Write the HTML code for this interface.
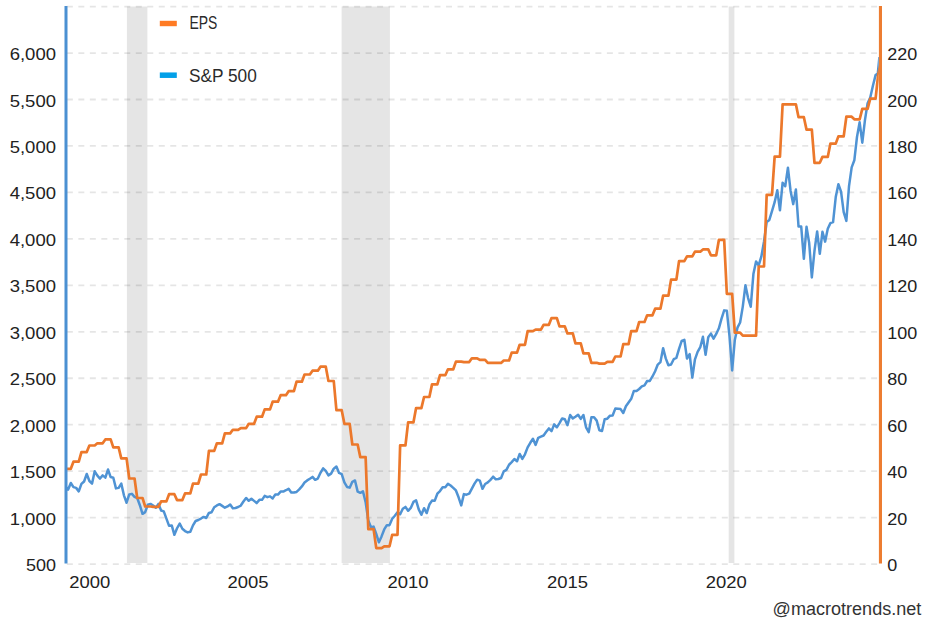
<!DOCTYPE html>
<html><head><meta charset="utf-8"><title>S&amp;P 500 EPS</title>
<style>html,body{margin:0;padding:0;background:#fff;width:927px;height:631px;overflow:hidden;font-family:"Liberation Sans",sans-serif;}svg{display:block;}</style>
</head><body>
<svg width="927" height="631" viewBox="0 0 927 631">
<rect x="0" y="0" width="927" height="631" fill="#ffffff"/>
<rect x="126.90" y="6.50" width="20.50" height="556.50" fill="#e5e5e5"/>
<rect x="341.60" y="6.50" width="48.30" height="556.50" fill="#e5e5e5"/>
<rect x="728.70" y="6.50" width="5.70" height="556.50" fill="#e5e5e5"/>
<line x1="66.85" y1="564.10" x2="878.0" y2="564.10" stroke="#000" stroke-opacity="0.1" stroke-width="1.8" stroke-dasharray="6.0,5.49"/>
<line x1="66.85" y1="517.64" x2="878.0" y2="517.64" stroke="#000" stroke-opacity="0.1" stroke-width="1.8" stroke-dasharray="6.0,5.49"/>
<line x1="66.85" y1="471.18" x2="878.0" y2="471.18" stroke="#000" stroke-opacity="0.1" stroke-width="1.8" stroke-dasharray="6.0,5.49"/>
<line x1="66.85" y1="424.72" x2="878.0" y2="424.72" stroke="#000" stroke-opacity="0.1" stroke-width="1.8" stroke-dasharray="6.0,5.49"/>
<line x1="66.85" y1="378.26" x2="878.0" y2="378.26" stroke="#000" stroke-opacity="0.1" stroke-width="1.8" stroke-dasharray="6.0,5.49"/>
<line x1="66.85" y1="331.80" x2="878.0" y2="331.80" stroke="#000" stroke-opacity="0.1" stroke-width="1.8" stroke-dasharray="6.0,5.49"/>
<line x1="66.85" y1="285.34" x2="878.0" y2="285.34" stroke="#000" stroke-opacity="0.1" stroke-width="1.8" stroke-dasharray="6.0,5.49"/>
<line x1="66.85" y1="238.88" x2="878.0" y2="238.88" stroke="#000" stroke-opacity="0.1" stroke-width="1.8" stroke-dasharray="6.0,5.49"/>
<line x1="66.85" y1="192.42" x2="878.0" y2="192.42" stroke="#000" stroke-opacity="0.1" stroke-width="1.8" stroke-dasharray="6.0,5.49"/>
<line x1="66.85" y1="145.96" x2="878.0" y2="145.96" stroke="#000" stroke-opacity="0.1" stroke-width="1.8" stroke-dasharray="6.0,5.49"/>
<line x1="66.85" y1="99.50" x2="878.0" y2="99.50" stroke="#000" stroke-opacity="0.1" stroke-width="1.8" stroke-dasharray="6.0,5.49"/>
<line x1="66.85" y1="53.04" x2="878.0" y2="53.04" stroke="#000" stroke-opacity="0.1" stroke-width="1.8" stroke-dasharray="6.0,5.49"/>
<line x1="66.85" y1="6.58" x2="878.0" y2="6.58" stroke="#000" stroke-opacity="0.1" stroke-width="1.8" stroke-dasharray="6.0,5.49"/>
<defs><clipPath id="pc"><rect x="66.0" y="6" width="812.8" height="560"/></clipPath></defs>
<g clip-path="url(#pc)" fill="none" stroke-linejoin="round" stroke-linecap="butt">
<path d="M65.50,486.50 L68.15,489.59 L70.81,483.01 L73.46,487.10 L76.12,487.87 L78.78,491.37 L81.43,483.92 L84.09,481.50 L86.74,474.04 L89.40,480.99 L92.06,483.59 L94.71,471.31 L97.37,475.60 L100.02,478.56 L102.68,475.40 L105.34,477.61 L107.99,469.54 L110.65,477.08 L113.30,477.74 L115.96,488.37 L118.62,487.88 L121.27,483.63 L123.93,495.34 L126.58,502.74 L129.24,494.46 L131.90,493.87 L134.55,496.79 L137.21,498.01 L139.86,505.23 L142.52,513.84 L145.18,512.09 L147.83,504.68 L150.49,503.88 L153.14,505.54 L155.80,507.72 L158.46,503.94 L161.11,510.49 L163.77,511.40 L166.42,518.59 L169.08,525.85 L171.74,525.44 L174.39,534.80 L177.05,528.26 L179.70,523.56 L182.36,528.81 L185.02,531.05 L187.67,532.40 L190.33,531.75 L192.98,525.36 L195.64,521.02 L198.30,520.01 L200.95,518.54 L203.61,516.90 L206.26,518.01 L208.92,512.93 L211.58,512.23 L214.23,507.24 L216.89,505.46 L219.54,504.17 L222.20,505.91 L224.86,507.67 L227.51,506.43 L230.17,504.55 L232.82,508.19 L235.48,507.95 L238.14,506.99 L240.79,505.54 L243.45,501.49 L246.10,497.95 L248.76,500.80 L251.42,498.72 L254.07,500.86 L256.73,503.07 L259.38,499.85 L262.04,499.86 L264.70,495.88 L267.35,497.17 L270.01,496.38 L272.66,498.40 L275.32,494.46 L277.98,494.57 L280.63,491.61 L283.29,491.56 L285.94,490.24 L288.60,488.78 L291.26,492.54 L293.91,492.53 L296.57,491.93 L299.22,489.41 L301.88,486.43 L304.54,482.52 L307.19,480.41 L309.85,478.77 L312.50,476.92 L315.16,479.84 L317.82,478.53 L320.47,472.82 L323.13,468.33 L325.78,470.87 L328.44,475.34 L331.10,473.60 L333.75,468.69 L336.41,466.59 L339.06,472.93 L341.72,474.12 L344.38,482.47 L347.03,486.92 L349.69,487.65 L352.34,481.81 L355.00,480.44 L357.66,491.62 L360.31,492.80 L362.97,491.36 L365.62,502.18 L368.28,520.54 L370.94,527.28 L373.59,526.63 L376.25,533.82 L378.90,542.26 L381.56,536.42 L384.22,529.46 L386.87,525.15 L389.53,525.14 L392.18,518.80 L394.84,515.72 L397.50,512.34 L400.15,514.28 L402.81,508.75 L405.46,506.94 L408.12,510.78 L410.78,507.93 L413.43,501.90 L416.09,500.29 L418.74,509.33 L421.40,514.79 L424.06,508.20 L426.71,513.06 L429.37,504.52 L432.02,500.61 L434.68,500.86 L437.34,493.70 L439.99,491.05 L442.65,487.23 L445.30,487.36 L447.96,483.85 L450.62,485.56 L453.27,487.85 L455.93,490.48 L458.58,497.30 L461.24,505.43 L463.90,494.10 L466.55,494.69 L469.21,493.70 L471.86,488.61 L474.52,483.66 L477.18,479.68 L479.83,480.67 L482.49,488.80 L485.14,483.99 L487.80,482.39 L490.46,479.86 L493.11,476.69 L495.77,479.34 L498.42,478.97 L501.08,478.04 L503.74,471.36 L506.39,469.82 L509.05,464.75 L511.70,462.11 L514.36,459.03 L517.02,461.30 L519.67,453.92 L522.33,458.82 L524.98,454.31 L527.64,447.34 L530.30,442.76 L532.95,438.81 L535.61,444.92 L538.26,437.78 L540.92,436.58 L543.58,435.50 L546.23,431.82 L548.89,428.42 L551.54,431.16 L554.20,424.41 L556.86,427.29 L559.51,423.04 L562.17,418.44 L564.82,419.25 L567.48,425.19 L570.14,415.01 L572.79,418.41 L575.45,416.77 L578.10,414.74 L580.76,418.86 L583.42,415.07 L586.07,427.31 L588.73,432.15 L591.38,417.35 L594.04,417.25 L596.70,420.64 L599.35,430.27 L602.01,431.02 L604.66,419.17 L607.32,418.65 L609.98,415.71 L612.63,415.53 L615.29,408.59 L617.94,408.84 L620.60,409.08 L623.26,413.00 L625.91,406.25 L628.57,402.53 L631.22,398.81 L633.88,390.93 L636.54,391.02 L639.19,389.02 L641.85,386.46 L644.50,385.38 L647.16,381.02 L649.82,380.89 L652.47,376.46 L655.13,371.27 L657.78,364.55 L660.44,362.13 L663.10,348.17 L665.75,358.39 L668.41,365.17 L671.06,364.50 L673.72,359.19 L676.38,357.97 L679.03,348.87 L681.69,340.95 L684.34,339.79 L687.00,358.59 L689.66,354.09 L692.31,377.62 L694.97,359.30 L697.62,351.83 L700.28,347.19 L702.94,336.83 L705.59,354.84 L708.25,337.21 L710.90,333.62 L713.56,338.63 L716.22,333.96 L718.87,328.31 L721.53,318.70 L724.18,310.36 L726.84,310.84 L729.50,336.05 L732.15,370.40 L734.81,339.94 L737.46,327.68 L740.12,322.48 L742.78,306.61 L745.43,285.31 L748.09,298.07 L750.74,306.72 L753.40,274.04 L756.06,261.55 L758.71,265.43 L761.37,256.43 L764.02,241.40 L766.68,222.05 L769.34,219.91 L771.99,211.24 L774.65,202.15 L777.30,190.31 L779.96,210.30 L782.62,182.63 L785.27,186.19 L787.93,167.69 L790.58,190.98 L793.24,204.13 L795.90,189.59 L798.55,226.62 L801.21,226.60 L803.86,258.82 L806.52,226.77 L809.18,243.06 L811.83,277.38 L814.49,250.78 L817.14,231.44 L819.80,253.79 L822.46,231.76 L825.11,241.65 L827.77,228.72 L830.42,223.13 L833.08,222.17 L835.74,197.03 L838.39,184.15 L841.05,191.71 L843.70,212.11 L846.36,220.87 L849.02,186.12 L851.67,167.35 L854.33,160.30 L856.98,137.01 L859.64,122.33 L862.30,142.64 L864.95,120.17 L867.61,103.17 L870.26,97.43 L872.92,85.71 L875.58,75.11 L877.80,73.60 L879.40,57.00" stroke="#4f93d4" stroke-width="2.5"/>
<path d="M65.50,468.80 L68.15,468.80 L70.81,468.80 L73.46,461.70 L76.12,461.70 L78.78,461.70 L81.43,452.10 L84.09,452.10 L86.74,452.10 L89.40,445.50 L92.06,445.50 L94.71,445.50 L97.37,443.30 L100.02,443.30 L102.68,443.30 L105.34,439.40 L107.99,439.40 L110.65,439.40 L113.30,447.40 L115.96,447.40 L118.62,447.40 L121.27,458.40 L123.93,458.40 L126.58,458.40 L129.24,478.50 L131.90,478.50 L134.55,478.50 L137.21,498.00 L139.86,498.00 L142.52,498.00 L145.18,506.50 L147.83,506.50 L150.49,506.50 L153.14,506.80 L155.80,506.80 L158.46,506.80 L161.11,501.40 L163.77,501.40 L166.42,501.40 L169.08,494.20 L171.74,494.20 L174.39,494.20 L177.05,500.10 L179.70,500.10 L182.36,500.10 L185.02,493.40 L187.67,493.40 L190.33,493.40 L192.98,483.60 L195.64,483.60 L198.30,483.60 L200.95,474.50 L203.61,474.50 L206.26,474.50 L208.92,450.90 L211.58,450.90 L214.23,450.90 L216.89,443.30 L219.54,443.30 L222.20,443.30 L224.86,433.40 L227.51,433.40 L230.17,433.40 L232.82,429.80 L235.48,429.80 L238.14,429.80 L240.79,428.10 L243.45,428.10 L246.10,428.10 L248.76,423.80 L251.42,423.80 L254.07,423.80 L256.73,416.70 L259.38,416.70 L262.04,416.70 L264.70,409.40 L267.35,409.40 L270.01,409.40 L272.66,401.70 L275.32,401.70 L277.98,401.70 L280.63,395.20 L283.29,395.20 L285.94,395.20 L288.60,391.20 L291.26,391.20 L293.91,391.20 L296.57,381.70 L299.22,381.70 L301.88,381.70 L304.54,374.50 L307.19,374.50 L309.85,374.50 L312.50,370.70 L315.16,370.70 L317.82,370.70 L320.47,366.70 L323.13,366.70 L325.78,366.70 L328.44,381.00 L331.10,381.00 L333.75,381.00 L336.41,410.20 L339.06,410.20 L341.72,410.20 L344.38,423.80 L347.03,423.80 L349.69,423.80 L352.34,444.50 L355.00,444.50 L357.66,444.50 L360.31,457.10 L362.97,457.10 L365.62,457.10 L368.28,529.10 L370.94,529.10 L373.59,529.10 L376.25,548.10 L378.90,548.10 L381.56,548.10 L384.22,546.30 L386.87,546.30 L389.53,546.30 L392.18,534.80 L394.84,534.80 L397.50,534.80 L400.15,445.40 L402.81,445.40 L405.46,445.40 L408.12,422.40 L410.78,422.40 L413.43,422.40 L416.09,408.10 L418.74,408.10 L421.40,408.10 L424.06,397.00 L426.71,397.00 L429.37,397.00 L432.02,384.40 L434.68,384.40 L437.34,384.40 L439.99,375.20 L442.65,375.20 L445.30,375.20 L447.96,369.30 L450.62,369.30 L453.27,369.30 L455.93,361.60 L458.58,361.60 L461.24,361.60 L463.90,362.10 L466.55,362.10 L469.21,362.10 L471.86,358.30 L474.52,358.30 L477.18,358.30 L479.83,359.90 L482.49,359.90 L485.14,359.90 L487.80,362.90 L490.46,362.90 L493.11,362.90 L495.77,362.90 L498.42,362.90 L501.08,362.90 L503.74,360.50 L506.39,360.50 L509.05,360.50 L511.70,352.60 L514.36,352.60 L517.02,352.60 L519.67,344.80 L522.33,344.80 L524.98,344.80 L527.64,331.20 L530.30,331.20 L532.95,331.20 L535.61,329.60 L538.26,329.60 L540.92,329.60 L543.58,324.80 L546.23,324.80 L548.89,324.80 L551.54,318.10 L554.20,318.10 L556.86,318.10 L559.51,326.40 L562.17,326.40 L564.82,326.40 L567.48,333.40 L570.14,333.40 L572.79,333.40 L575.45,343.30 L578.10,343.30 L580.76,343.30 L583.42,353.30 L586.07,353.30 L588.73,353.30 L591.38,362.80 L594.04,362.80 L596.70,362.80 L599.35,363.60 L602.01,363.60 L604.66,363.60 L607.32,361.90 L609.98,361.90 L612.63,361.90 L615.29,356.50 L617.94,356.50 L620.60,356.50 L623.26,344.20 L625.91,344.20 L628.57,344.20 L631.22,331.10 L633.88,331.10 L636.54,331.10 L639.19,322.00 L641.85,322.00 L644.50,322.00 L647.16,315.30 L649.82,315.30 L652.47,315.30 L655.13,308.70 L657.78,308.70 L660.44,308.70 L663.10,295.70 L665.75,295.70 L668.41,295.70 L671.06,279.60 L673.72,279.60 L676.38,279.60 L679.03,261.20 L681.69,261.20 L684.34,261.20 L687.00,256.40 L689.66,256.40 L692.31,256.40 L694.97,251.70 L697.62,251.70 L700.28,251.70 L702.94,249.40 L705.59,249.40 L708.25,249.40 L710.90,255.30 L713.56,255.30 L716.22,255.30 L718.87,239.90 L721.53,239.90 L724.18,239.90 L726.84,293.80 L729.50,293.80 L732.15,293.80 L734.81,332.70 L737.46,332.70 L740.12,332.70 L742.78,335.60 L745.43,335.60 L748.09,335.60 L750.74,335.60 L753.40,335.60 L756.06,335.60 L758.71,266.50 L761.37,266.50 L764.02,266.50 L766.68,194.90 L769.34,194.90 L771.99,194.90 L774.65,156.60 L777.30,156.60 L779.96,156.60 L782.62,104.30 L785.27,104.30 L787.93,104.30 L790.58,104.30 L793.24,104.30 L795.90,104.30 L798.55,117.20 L801.21,117.20 L803.86,117.20 L806.52,129.60 L809.18,129.60 L811.83,129.60 L814.49,162.80 L817.14,162.80 L819.80,162.80 L822.46,156.90 L825.11,156.90 L827.77,156.90 L830.42,143.60 L833.08,143.60 L835.74,143.60 L838.39,136.40 L841.05,136.40 L843.70,136.40 L846.36,116.70 L849.02,116.70 L851.67,116.70 L854.33,119.30 L856.98,119.30 L859.64,119.30 L862.30,108.90 L864.95,108.90 L867.61,108.90 L870.26,98.60 L872.92,98.60 L875.58,98.60 L878.20,74.50 L881.50,60.00" stroke="#ec782b" stroke-width="2.7"/>
</g>
<rect x="64.5" y="6" width="3" height="557.5" fill="#4b90d2"/>
<rect x="878.9" y="6" width="3.1" height="557.5" fill="#ed7d31"/>
<text x="56.0" y="571.1" text-anchor="end" font-size="17.3" fill="#222" font-family="Liberation Sans, sans-serif" textLength="30.0" lengthAdjust="spacingAndGlyphs">500</text>
<text x="56.0" y="524.6" text-anchor="end" font-size="17.3" fill="#222" font-family="Liberation Sans, sans-serif" textLength="46.3" lengthAdjust="spacingAndGlyphs">1,000</text>
<text x="56.0" y="478.2" text-anchor="end" font-size="17.3" fill="#222" font-family="Liberation Sans, sans-serif" textLength="46.3" lengthAdjust="spacingAndGlyphs">1,500</text>
<text x="56.0" y="431.7" text-anchor="end" font-size="17.3" fill="#222" font-family="Liberation Sans, sans-serif" textLength="46.3" lengthAdjust="spacingAndGlyphs">2,000</text>
<text x="56.0" y="385.3" text-anchor="end" font-size="17.3" fill="#222" font-family="Liberation Sans, sans-serif" textLength="46.3" lengthAdjust="spacingAndGlyphs">2,500</text>
<text x="56.0" y="338.8" text-anchor="end" font-size="17.3" fill="#222" font-family="Liberation Sans, sans-serif" textLength="46.3" lengthAdjust="spacingAndGlyphs">3,000</text>
<text x="56.0" y="292.3" text-anchor="end" font-size="17.3" fill="#222" font-family="Liberation Sans, sans-serif" textLength="46.3" lengthAdjust="spacingAndGlyphs">3,500</text>
<text x="56.0" y="245.9" text-anchor="end" font-size="17.3" fill="#222" font-family="Liberation Sans, sans-serif" textLength="46.3" lengthAdjust="spacingAndGlyphs">4,000</text>
<text x="56.0" y="199.4" text-anchor="end" font-size="17.3" fill="#222" font-family="Liberation Sans, sans-serif" textLength="46.3" lengthAdjust="spacingAndGlyphs">4,500</text>
<text x="56.0" y="153.0" text-anchor="end" font-size="17.3" fill="#222" font-family="Liberation Sans, sans-serif" textLength="46.3" lengthAdjust="spacingAndGlyphs">5,000</text>
<text x="56.0" y="106.5" text-anchor="end" font-size="17.3" fill="#222" font-family="Liberation Sans, sans-serif" textLength="46.3" lengthAdjust="spacingAndGlyphs">5,500</text>
<text x="56.0" y="60.0" text-anchor="end" font-size="17.3" fill="#222" font-family="Liberation Sans, sans-serif" textLength="46.3" lengthAdjust="spacingAndGlyphs">6,000</text>
<text x="887.2" y="571.1" font-size="17.3" fill="#222" font-family="Liberation Sans, sans-serif" textLength="10.0" lengthAdjust="spacingAndGlyphs">0</text>
<text x="887.2" y="524.6" font-size="17.3" fill="#222" font-family="Liberation Sans, sans-serif" textLength="20.0" lengthAdjust="spacingAndGlyphs">20</text>
<text x="887.2" y="478.2" font-size="17.3" fill="#222" font-family="Liberation Sans, sans-serif" textLength="20.0" lengthAdjust="spacingAndGlyphs">40</text>
<text x="887.2" y="431.7" font-size="17.3" fill="#222" font-family="Liberation Sans, sans-serif" textLength="20.0" lengthAdjust="spacingAndGlyphs">60</text>
<text x="887.2" y="385.3" font-size="17.3" fill="#222" font-family="Liberation Sans, sans-serif" textLength="20.0" lengthAdjust="spacingAndGlyphs">80</text>
<text x="887.2" y="338.8" font-size="17.3" fill="#222" font-family="Liberation Sans, sans-serif" textLength="30.0" lengthAdjust="spacingAndGlyphs">100</text>
<text x="887.2" y="292.3" font-size="17.3" fill="#222" font-family="Liberation Sans, sans-serif" textLength="30.0" lengthAdjust="spacingAndGlyphs">120</text>
<text x="887.2" y="245.9" font-size="17.3" fill="#222" font-family="Liberation Sans, sans-serif" textLength="30.0" lengthAdjust="spacingAndGlyphs">140</text>
<text x="887.2" y="199.4" font-size="17.3" fill="#222" font-family="Liberation Sans, sans-serif" textLength="30.0" lengthAdjust="spacingAndGlyphs">160</text>
<text x="887.2" y="153.0" font-size="17.3" fill="#222" font-family="Liberation Sans, sans-serif" textLength="30.0" lengthAdjust="spacingAndGlyphs">180</text>
<text x="887.2" y="106.5" font-size="17.3" fill="#222" font-family="Liberation Sans, sans-serif" textLength="30.0" lengthAdjust="spacingAndGlyphs">200</text>
<text x="887.2" y="60.0" font-size="17.3" fill="#222" font-family="Liberation Sans, sans-serif" textLength="30.0" lengthAdjust="spacingAndGlyphs">220</text>
<text x="89.7" y="587.9" text-anchor="middle" font-size="17.3" fill="#222" font-family="Liberation Sans, sans-serif" textLength="41" lengthAdjust="spacingAndGlyphs">2000</text>
<text x="248.1" y="587.9" text-anchor="middle" font-size="17.3" fill="#222" font-family="Liberation Sans, sans-serif" textLength="41" lengthAdjust="spacingAndGlyphs">2005</text>
<text x="407.9" y="587.9" text-anchor="middle" font-size="17.3" fill="#222" font-family="Liberation Sans, sans-serif" textLength="41" lengthAdjust="spacingAndGlyphs">2010</text>
<text x="567.5" y="587.9" text-anchor="middle" font-size="17.3" fill="#222" font-family="Liberation Sans, sans-serif" textLength="41" lengthAdjust="spacingAndGlyphs">2015</text>
<text x="726.2" y="587.9" text-anchor="middle" font-size="17.3" fill="#222" font-family="Liberation Sans, sans-serif" textLength="41" lengthAdjust="spacingAndGlyphs">2020</text>
<rect x="159.8" y="20.8" width="17.0" height="5.4" fill="#ff7b24"/>
<text x="189.4" y="28.7" font-size="19" fill="#2a2a2a" font-family="Liberation Sans, sans-serif" textLength="27.9" lengthAdjust="spacingAndGlyphs">EPS</text>
<rect x="159.8" y="72.45" width="17.0" height="5.5" fill="#03a0e8"/>
<text x="189.0" y="82.2" font-size="19" fill="#2a2a2a" font-family="Liberation Sans, sans-serif" textLength="67.8" lengthAdjust="spacingAndGlyphs">S&amp;P 500</text>
<text x="772.6" y="615.0" font-size="18" fill="#333" font-family="Liberation Sans, sans-serif" textLength="148.7" lengthAdjust="spacingAndGlyphs">@macrotrends.net</text>
</svg>
</body></html>
